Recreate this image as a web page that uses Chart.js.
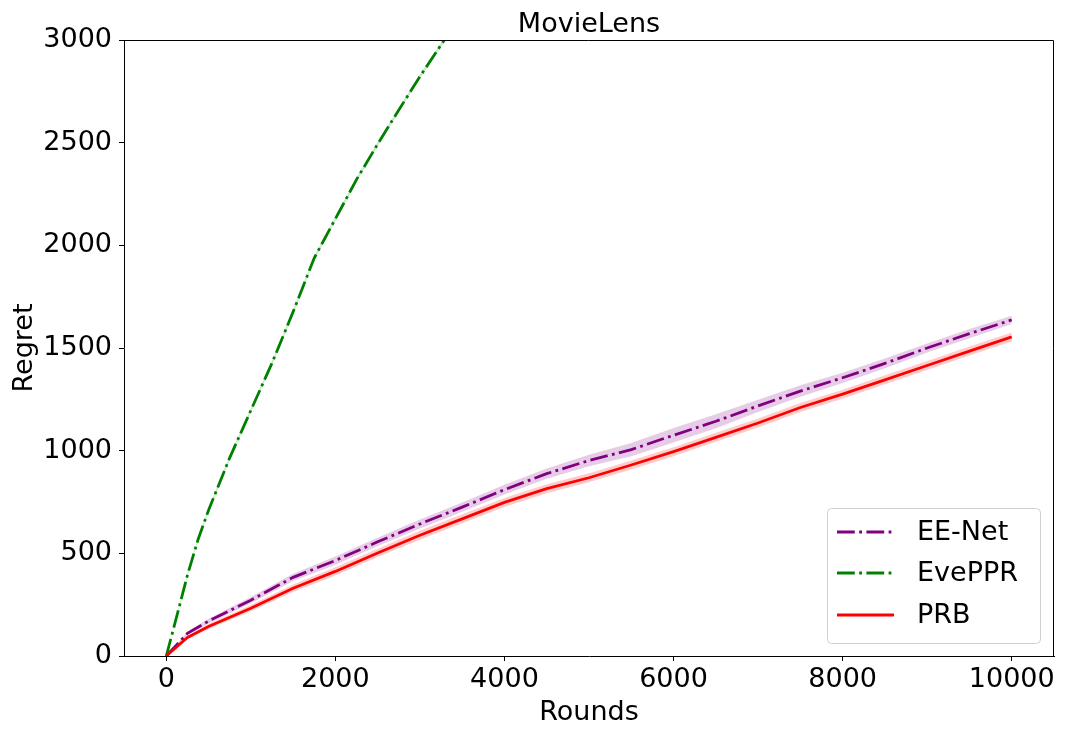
<!DOCTYPE html>
<html>
<head>
<meta charset="utf-8">
<title>MovieLens</title>
<script src="https://cdn.jsdelivr.net/npm/chart.js@4.4.1/dist/chart.umd.min.js"></script>
<style>
  html, body { margin: 0; padding: 0; background: #fff; }
  #wrap { width: 1065px; height: 737px; }
</style>
</head>
<body>
<div id="wrap"><canvas id="chart" width="1065" height="737"></canvas></div>
<script>
/* MovieLens regret curves */

// ── Data ─────────────────────────────────────────────────────────────────────
const rounds     = [0, 250, 500, 1000, 1500, 2000, 2500, 3000, 3500, 4000, 4500, 5000, 5500, 6000, 6500, 7000, 7500, 8000, 8500, 9000, 9500, 10000];
const eeNet      = [0, 110, 170, 272, 383, 465, 556, 643, 725, 810, 888, 952, 1005, 1075, 1143, 1218, 1290, 1355, 1425, 1500, 1570, 1637];
const eeNetStd   = [0, 8, 12, 15, 18, 20, 20, 22, 22, 24, 25, 28, 32, 35, 34, 30, 28, 25, 24, 22, 22, 20];
const prb        = [0, 90, 144, 233, 330, 412, 502, 588, 668, 748, 815, 868, 930, 995, 1065, 1135, 1210, 1275, 1345, 1415, 1485, 1554];
const prbStd     = [0, 8, 12, 15, 18, 20, 20, 22, 22, 22, 22, 22, 22, 22, 22, 22, 22, 22, 22, 22, 22, 22];

const roundsEve  = [0, 125, 250, 375, 500, 750, 1000, 1250, 1500, 1750, 2000, 2250, 2500, 2750, 3000, 3250, 3500];
const evePPR     = [0, 195, 393, 566, 710, 965, 1196, 1426, 1676, 1938, 2129, 2320, 2493, 2659, 2822, 2976, 3130];
const evePPRStd  = [0, 6, 8, 9, 10, 10, 10, 10, 10, 10, 10, 10, 10, 10, 10, 10, 10];

const xTicks = [0, 2000, 4000, 6000, 8000, 10000];
const yTicks = [0, 500, 1000, 1500, 2000, 2500, 3000];

const TITLE = "MovieLens";

// ── Styles ───────────────────────────────────────────────────────────────────
const FONT    = "'DejaVu Sans', sans-serif";
const LW      = 2.78;
const DASHDOT = [17.8, 4.4, 2.8, 4.4];

const pts  = (xs, ys) => xs.map((x, i) => ({ x, y: ys[i] }));
const band = (xs, ys, sd, sign) => xs.map((x, i) => ({ x, y: ys[i] + sign * sd[i] }));

function bandPair(xs, ys, sd, color, lowIdx, order) {
  const common = { borderWidth: 0, pointRadius: 0, tension: 0, clip: 0 };
  return [
    { ...common, label: "_low",  data: band(xs, ys, sd, -1), fill: false, order: order + 1 },
    { ...common, label: "_high", data: band(xs, ys, sd, 1),  fill: lowIdx, backgroundColor: color, order },
  ];
}

const series = [
  { label: "EE-Net", color: "#800080", dash: DASHDOT },
  { label: "EvePPR", color: "#008000", dash: DASHDOT },
  { label: "PRB",    color: "#ff0000", dash: [] },
];

const lineDs = (s, data, order) => ({
  label: s.label, data, borderColor: s.color, borderWidth: LW, borderDash: s.dash,
  borderCapStyle: "butt", pointRadius: 0, tension: 0, fill: false, clip: 0, order,
});

const datasets = [
  ...bandPair(rounds, eeNet, eeNetStd, "rgba(128,0,128,0.2)", 0, 8),      // 0,1
  lineDs(series[0], pts(rounds, eeNet), 5),                                 // 2
  ...bandPair(roundsEve, evePPR, evePPRStd, "rgba(0,128,0,0.2)", 3, 6),   // 3,4
  lineDs(series[1], pts(roundsEve, evePPR), 4),                             // 5
  ...bandPair(rounds, prb, prbStd, "rgba(255,0,0,0.2)", 6, 2),            // 6,7
  lineDs(series[2], pts(rounds, prb), 1),                                   // 8
];

// ── Plugins: title over the axes, frame, inset legend ────────────────────────
const axesTitle = {
  id: "axesTitle",
  afterDraw(chart) {
    const { ctx, chartArea: a } = chart;
    ctx.save();
    ctx.font = `27px ${FONT}`;
    ctx.fillStyle = "#000";
    ctx.textAlign = "center";
    ctx.textBaseline = "alphabetic";
    ctx.fillText(TITLE, (a.left + a.right) / 2, a.top - 8);
    ctx.restore();
  },
};

const framePlugin = {
  id: "frame",
  afterDatasetsDraw(chart) {
    const { ctx, chartArea: a } = chart;
    ctx.save();
    ctx.strokeStyle = "#000";
    ctx.lineWidth = 1;
    ctx.beginPath();
    ctx.moveTo(a.left, a.top + 0.5);
    ctx.lineTo(a.right - 0.5, a.top + 0.5);
    ctx.lineTo(a.right - 0.5, a.bottom);
    ctx.stroke();
    ctx.restore();
  },
};

const legendPlugin = {
  id: "insetLegend",
  afterDraw(chart) {
    const { ctx, chartArea: a } = chart;
    const w = 213, h = 135;
    const x0 = a.right - 14 - w, y0 = a.bottom - 13 - h;
    ctx.save();
    ctx.beginPath();
    ctx.roundRect(x0 + 0.5, y0 + 0.5, w, h, 4);
    ctx.fillStyle = "rgba(255,255,255,0.8)";
    ctx.fill();
    ctx.strokeStyle = "#d0d0d0";
    ctx.lineWidth = 1;
    ctx.stroke();

    const rowY = [24, 65, 107];
    ctx.font = `27px ${FONT}`;
    ctx.textBaseline = "middle";
    ctx.textAlign = "left";
    series.forEach((s, i) => {
      const y = y0 + rowY[i];
      ctx.beginPath();
      ctx.strokeStyle = s.color;
      ctx.lineWidth = LW;
      ctx.lineCap = "butt";
      ctx.setLineDash(s.dash);
      ctx.moveTo(x0 + 10, y);
      ctx.lineTo(x0 + 67, y);
      ctx.stroke();
      ctx.setLineDash([]);
      ctx.fillStyle = "#000";
      ctx.fillText(s.label, x0 + 90, y + 1);
    });
    ctx.restore();
  },
};

// ── Chart ────────────────────────────────────────────────────────────────────
new Chart(document.getElementById("chart"), {
  type: "line",
  data: { datasets },
  plugins: [axesTitle, framePlugin, legendPlugin],
  options: {
    responsive: false,
    animation: false,
    devicePixelRatio: 1,
    layout: { padding: { left: 0, right: 11, top: 40, bottom: 0 } },
    plugins: {
      legend: { display: false },
      tooltip: { enabled: false },
      title: { display: false },
    },
    scales: {
      x: {
        type: "linear",
        min: -500, max: 10500,
        afterBuildTicks: s => { s.ticks = xTicks.map(v => ({ value: v })); },
        afterFit: s => { s.height = 81; },
        ticks: { color: "#000", font: { family: FONT, size: 27 }, padding: 3, maxRotation: 0, callback: v => String(v) },
        grid: { drawOnChartArea: false, drawTicks: true, tickLength: 5, color: "#000", lineWidth: 1 },
        border: { display: true, color: "#000", width: 1 },
        title: { display: true, text: "Rounds", color: "#000", font: { family: FONT, size: 27 }, padding: { top: 0, bottom: 8 } },
      },
      y: {
        type: "linear",
        min: 0, max: 3000,
        afterBuildTicks: s => { s.ticks = yTicks.map(v => ({ value: v })); },
        afterFit: s => { s.width = 124; },
        ticks: { color: "#000", font: { family: FONT, size: 27 }, padding: 7, callback: v => String(v) },
        grid: { drawOnChartArea: false, drawTicks: true, tickLength: 5, color: "#000", lineWidth: 1 },
        border: { display: true, color: "#000", width: 1 },
        title: { display: true, text: "Regret", color: "#000", font: { family: FONT, size: 27 }, padding: { top: 9, bottom: 0 } },
      },
    },
  },
});
</script>
</body>
</html>
